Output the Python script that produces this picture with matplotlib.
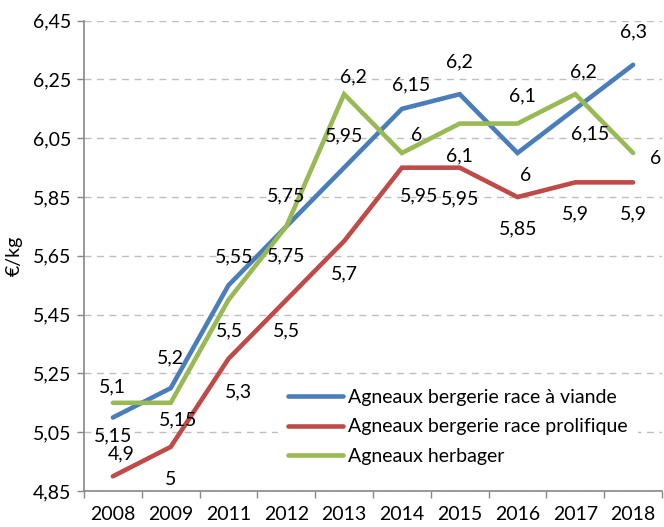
import matplotlib
matplotlib.use("Agg")
import matplotlib.pyplot as plt
from matplotlib.ticker import FixedLocator, FuncFormatter

plt.rcParams['font.family'] = ['Lato', 'DejaVu Sans']

years = ["2008", "2009", "2011", "2012", "2013", "2014", "2015", "2016", "2017", "2018"]
viande = [5.1, 5.2, 5.55, 5.75, 5.95, 6.15, 6.2, 6.0, 6.15, 6.3]
prolifique = [4.9, 5.0, 5.3, 5.5, 5.7, 5.95, 5.95, 5.85, 5.9, 5.9]
herbager = [5.15, 5.15, 5.5, 5.75, 6.2, 6.0, 6.1, 6.1, 6.2, 6.0]
names = ["Agneaux bergerie race à viande", "Agneaux bergerie race prolifique", "Agneaux herbager"]
colors = ["#4A7EBB", "#BE4B48", "#98B954"]
yticks = [4.85, 5.05, 5.25, 5.45, 5.65, 5.85, 6.05, 6.25, 6.45]

FS = 14

# label offsets in pixels (dx, dy) per series per point
off_viande = [(0, 31), (0, 30), (6, 28), (0, 31), (0, 32), (9, 24), (0, 32), (8, -23), (15, -25), (0, 33)]
off_prol = [(8, 22), (0, -33), (10, -33), (0, -31), (0, -33), (17, -28), (0, -31), (1, -32), (0, -32), (0, -32)]
off_herb = [(0, -33), (7, -17), (1, -31), (0, -29), (9, 17), (15, 17), (0, -32), (5, 28), (8, 22), (23, -6)]

fig = plt.figure(figsize=(6.64, 5.27), dpi=100)
ax = fig.add_axes([84/664, 36/527, 578/664, 470.3/527])

x = list(range(len(years)))
series = [viande, prolifique, herbager]
offs = [off_viande, off_prol, off_herb]
for vals, c, n in zip(series, colors, names):
    ax.plot(x, vals, color=c, lw=3.3, label=n, solid_capstyle='round', solid_joinstyle='miter', zorder=3)

def fmt(v):
    return ("%g" % v).replace(".", ",")

for vals, off in zip(series, offs):
    for xi, v, (dx, dy) in zip(x, vals, off):
        ax.annotate(fmt(v), (xi, v), xytext=(dx, dy), textcoords='offset pixels',
                    ha='center', va='center', fontsize=FS, color='#000000',
                    annotation_clip=False, zorder=5)

ax.set_xlim(-0.5, len(years) - 0.5)
ax.set_ylim(4.85, 6.45)
ax.set_yticks(yticks)
ax.yaxis.set_major_formatter(FuncFormatter(lambda v, p: ("%.2f" % v).replace(".", ",")))
ax.set_xticks(x)
ax.set_xticklabels(years)
ax.xaxis.set_minor_locator(FixedLocator([i - 0.5 for i in range(len(years) + 1)]))
ax.tick_params(axis='x', which='major', length=0, pad=11, labelsize=FS)
ax.tick_params(axis='x', which='minor', length=5, color='#888888', width=1)
ax.tick_params(axis='y', length=5, color='#888888', width=1, labelsize=FS, pad=4)

ax.grid(axis='y', linestyle=(0, (5, 4)), color='#BFBFBF', lw=1)
ax.set_axisbelow(True)
for s in ['top', 'right']:
    ax.spines[s].set_visible(False)
for s in ['left', 'bottom']:
    ax.spines[s].set_color('#888888')
    ax.spines[s].set_linewidth(1.2)

ax.set_ylabel("€/kg", fontsize=FS)
ax.yaxis.set_label_coords(-0.105, 0.5)

leg = ax.legend(loc='lower right', bbox_to_anchor=(0.958, 0.034), frameon=True, fontsize=FS,
                handlelength=2.8, handletextpad=0.3, labelspacing=0.66, borderpad=0.5, borderaxespad=0)
leg.get_frame().set_facecolor('white')
leg.get_frame().set_edgecolor('none')
leg.get_frame().set_alpha(1)
leg.set_zorder(4)

fig.savefig("out.png", dpi=100)
